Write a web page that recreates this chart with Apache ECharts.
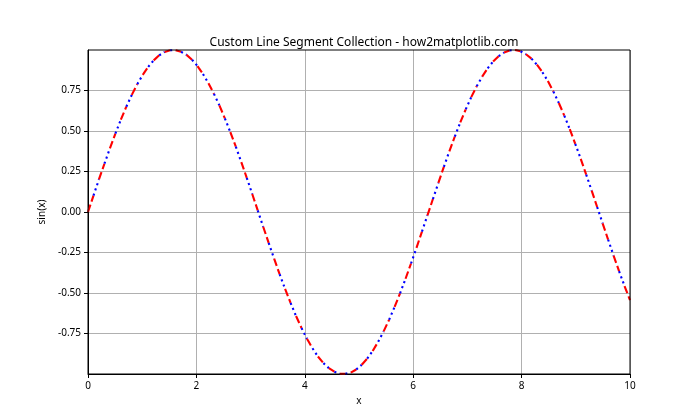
<!DOCTYPE html>
<html>
<head>
<meta charset="utf-8">
<script src="https://cdn.jsdelivr.net/npm/echarts@6/dist/echarts.min.js"></script>
<style>html,body{margin:0;padding:0;background:#fff;}#c{width:700px;height:420px;}</style>
</head>
<body>
<div id="c"></div>
<script>
const title = "Custom Line Segment Collection - how2matplotlib.com";
const xName = "x";
const yName = "sin(x)";
const xTicks = [0, 2, 4, 6, 8, 10];
const yTicks = [-0.75, -0.5, -0.25, 0, 0.25, 0.5, 0.75];
const xs = [0.0000,0.1010,0.2020,0.3030,0.4040,0.5051,0.6061,0.7071,0.8081,0.9091,
1.0101,1.1111,1.2121,1.3131,1.4141,1.5152,1.6162,1.7172,1.8182,1.9192,
2.0202,2.1212,2.2222,2.3232,2.4242,2.5253,2.6263,2.7273,2.8283,2.9293,
3.0303,3.1313,3.2323,3.3333,3.4343,3.5354,3.6364,3.7374,3.8384,3.9394,
4.0404,4.1414,4.2424,4.3434,4.4444,4.5455,4.6465,4.7475,4.8485,4.9495,
5.0505,5.1515,5.2525,5.3535,5.4545,5.5556,5.6566,5.7576,5.8586,5.9596,
6.0606,6.1616,6.2626,6.3636,6.4646,6.5657,6.6667,6.7677,6.8687,6.9697,
7.0707,7.1717,7.2727,7.3737,7.4747,7.5758,7.6768,7.7778,7.8788,7.9798,
8.0808,8.1818,8.2828,8.3838,8.4848,8.5859,8.6869,8.7879,8.8889,8.9899,
9.0909,9.1919,9.2929,9.3939,9.4949,9.5960,9.6970,9.7980,9.8990,10.0000];
const ys = [0.000,0.101,0.201,0.298,0.393,0.484,0.570,0.650,0.723,0.789,
0.847,0.896,0.936,0.967,0.988,0.998,0.999,0.989,0.970,0.940,
0.901,0.852,0.795,0.730,0.658,0.578,0.493,0.403,0.308,0.211,
0.111,0.010,-0.091,-0.191,-0.288,-0.384,-0.475,-0.561,-0.642,-0.716,
-0.783,-0.841,-0.892,-0.933,-0.964,-0.986,-0.998,-0.999,-0.991,-0.972,
-0.943,-0.905,-0.858,-0.801,-0.737,-0.665,-0.586,-0.502,-0.412,-0.318,
-0.221,-0.121,-0.021,0.080,0.180,0.279,0.374,0.466,0.553,0.634,
0.709,0.776,0.836,0.887,0.929,0.962,0.984,0.997,1.000,0.992,
0.974,0.947,0.909,0.863,0.808,0.744,0.673,0.595,0.511,0.421,
0.328,0.231,0.132,0.031,-0.070,-0.170,-0.269,-0.365,-0.457,-0.544];
const segColors = ["#ff0000", "#0000ff"];

const FONT = "Noto Sans";
const chart = echarts.init(document.getElementById('c'), null, {renderer: 'canvas'});
const series = [];
for (let i = 0; i < xs.length - 1; i++) {
  const k = i % 2;
  series.push({
    type: 'line',
    data: [[xs[i], ys[i]], [xs[i + 1], ys[i + 1]]],
    symbol: 'none',
    showSymbol: false,
    silent: true,
    animation: false,
    z: 3,
    lineStyle: {
      color: segColors[k],
      width: 2.1,
      cap: 'butt',
      type: k === 0 ? [7.7, 3.3] : [2.1, 3.4]
    }
  });
}
chart.setOption({
  animation: false,
  backgroundColor: '#fff',
  title: {
    text: title,
    left: 359, top: 32, textAlign: 'center',
    textStyle: {fontFamily: FONT, fontSize: 12, fontWeight: 'normal', color: '#000'}
  },
  grid: {left: 88, right: 70, top: 50, bottom: 46, show: true, borderColor: '#000', borderWidth: 1, backgroundColor: 'transparent', z: 5},
  xAxis: {
    type: 'value', min: 0, max: 10, interval: 2,
    name: xName, nameLocation: 'middle', nameGap: 22,
    nameTextStyle: {fontFamily: FONT, fontSize: 10, color: '#000'},
    axisLine: {show: true, onZero: false, lineStyle: {color: '#000', width: 1}},
    axisTick: {show: true, length: 4, lineStyle: {color: '#000', width: 1}},
    axisLabel: {fontFamily: FONT, fontSize: 10, color: '#000', margin: 7},
    splitLine: {show: true, lineStyle: {color: '#b0b0b0', width: 1}}
  },
  yAxis: {
    type: 'value', min: -1, max: 1, interval: 0.25,
    name: yName, nameLocation: 'middle', nameGap: 31, nameRotate: 90,
    nameTextStyle: {fontFamily: FONT, fontSize: 10, color: '#000'},
    axisLine: {show: true, onZero: false, lineStyle: {color: '#000', width: 1}},
    axisTick: {show: true, length: 4, customValues: yTicks, lineStyle: {color: '#000', width: 1}},
    axisLabel: {fontFamily: FONT, fontSize: 10, color: '#000', margin: 7, customValues: yTicks,
      formatter: v => (Math.abs(v) >= 0.999 ? '' : v.toFixed(2))},
    splitLine: {show: true, lineStyle: {color: '#b0b0b0', width: 1}}
  },
  series: series
});
</script>
</body>
</html>
